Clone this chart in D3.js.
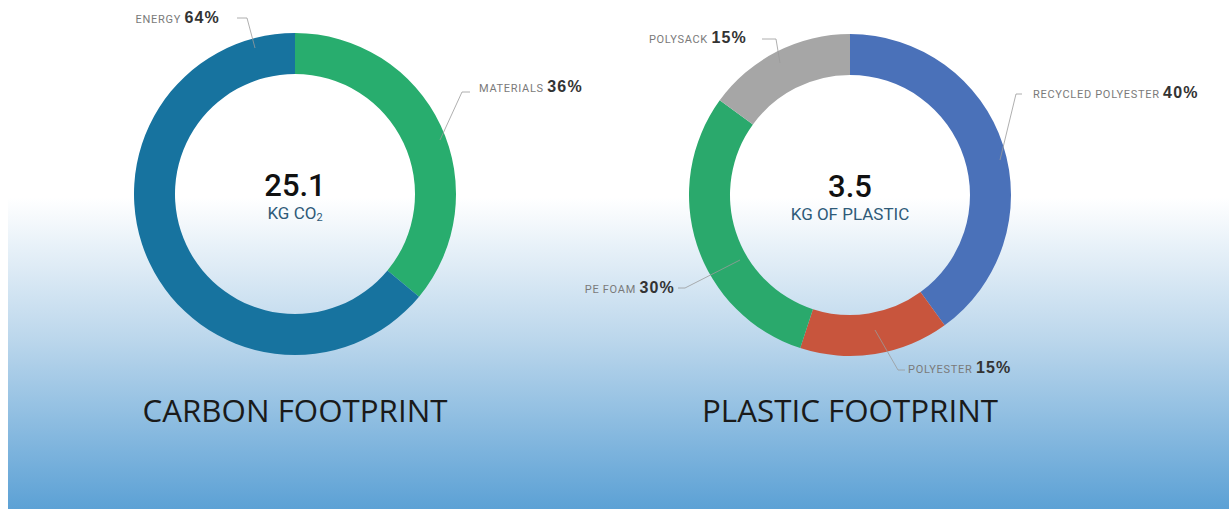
<!DOCTYPE html>
<html>
<head>
<meta charset="utf-8">
<script src="https://cdn.jsdelivr.net/npm/d3@7"></script>
<style>
  body { margin: 0; background: #fff; }
  svg { display: block; }
</style>
</head>
<body>
<div id="chart"></div>
<script>
// data
const carbonLabels = ["MATERIALS", "ENERGY"];
const carbonValues = [36, 64];
const carbonColors = ["#28ad6e", "#17739f"];
const carbonTotal = "25.1";

const plasticLabels = ["RECYCLED POLYESTER", "POLYESTER", "PE FOAM", "POLYSACK"];
const plasticValues = [40, 15, 30, 15];
const plasticColors = ["#4a71b9", "#c8553d", "#2aa96c", "#a6a6a6"];
const plasticTotal = "3.5";

const W = 1231, H = 509;

const svg = d3.select("#chart")
  .append("svg")
  .attr("width", W)
  .attr("height", H);

// background gradient
const grad = svg.append("defs").append("linearGradient")
  .attr("id", "bg")
  .attr("x1", 0).attr("y1", 0).attr("x2", 0).attr("y2", 1);
grad.append("stop").attr("offset", "0%").attr("stop-color", "#ffffff");
grad.append("stop").attr("offset", "45%").attr("stop-color", "#bcd7ec");
grad.append("stop").attr("offset", "100%").attr("stop-color", "#5ca1d5");

svg.append("rect")
  .attr("x", 8).attr("y", 198)
  .attr("width", 1221).attr("height", H - 198)
  .attr("fill", "url(#bg)");

const outerR = 161, innerR = 120;
const arc = d3.arc().innerRadius(innerR).outerRadius(outerR);
const pie = d3.pie().sort(null).value(d => d.value);

// label layout: leader points relative to donut centre, text anchor position
function donut(cx, cy, labels, values, colors, layout, total, unit, title) {
  const g = svg.append("g").attr("transform", `translate(${cx}, ${cy})`);
  const data = labels.map((l, i) => ({label: l, value: values[i], color: colors[i]}));

  g.selectAll("path.slice")
    .data(pie(data))
    .join("path")
    .attr("class", "slice")
    .attr("d", arc)
    .attr("fill", d => d.data.color);

  // leader lines
  g.selectAll("polyline")
    .data(layout)
    .join("polyline")
    .attr("points", d => d.line.map(p => p.join(",")).join(" "))
    .attr("fill", "none")
    .attr("stroke", "#9a9a9a")
    .attr("stroke-width", 0.8);

  const t = g.selectAll("text.lbl")
    .data(layout)
    .join("text")
    .attr("class", "lbl")
    .attr("x", d => d.text[0])
    .attr("y", d => d.text[1])
    .attr("text-anchor", d => d.anchor);
  t.append("tspan")
    .attr("font-family", "Roboto, sans-serif")
    .attr("font-size", 11)
    .attr("letter-spacing", 0.7)
    .attr("fill", "#7a7a7a")
    .text((d, i) => labels[d.idx] + "  ");
  t.append("tspan")
    .attr("font-family", "'Liberation Sans', Arial, sans-serif")
    .attr("font-weight", "bold")
    .attr("font-size", 16)
    .attr("letter-spacing", 1.2)
    .attr("fill", "#333")
    .text(d => values[d.idx] + "%");

  g.append("text")
    .attr("y", 2)
    .attr("text-anchor", "middle")
    .attr("font-family", "Roboto, sans-serif")
    .attr("font-weight", 500)
    .attr("font-size", 31)
    .attr("fill", "#111")
    .text(total);

  const u = g.append("text")
    .attr("y", 25)
    .attr("text-anchor", "middle")
    .attr("font-family", "Roboto, sans-serif")
    .attr("font-size", 17)
    .attr("fill", "#2e5a78");
  unit.forEach(part => {
    const s = u.append("tspan").text(part.t);
    if (part.sub) s.attr("font-size", 11).attr("dy", 2);
  });

  svg.append("text")
    .attr("x", cx)
    .attr("y", 422)
    .attr("text-anchor", "middle")
    .attr("font-family", "'Open Sans', sans-serif")
    .attr("font-size", 31)
    .attr("fill", "#1a1a1a")
    .attr("textLength", title.len)
    .attr("lengthAdjust", "spacingAndGlyphs")
    .text(title.t);
}

donut(295, 194, carbonLabels, carbonValues, carbonColors, [
  {idx: 1, line: [[-40, -146], [-48, -176], [-58, -176]], text: [-75, -171], anchor: "end"},
  {idx: 0, line: [[145, -54], [167, -102], [175, -102]], text: [184, -102], anchor: "start"}
], carbonTotal, [{t: "KG CO"}, {t: "2", sub: true}], {t: "CARBON FOOTPRINT", len: 305});

donut(850, 195, plasticLabels, plasticValues, plasticColors, [
  {idx: 3, line: [[-70, -132], [-74, -156], [-88, -156]], text: [-103, -152], anchor: "end"},
  {idx: 0, line: [[150, -35], [166, -101], [172, -101]], text: [183, -97], anchor: "start"},
  {idx: 2, line: [[-110, 65], [-165, 93], [-172, 93]], text: [-175, 98], anchor: "end"},
  {idx: 1, line: [[25, 135], [48, 175], [55, 175]], text: [58, 178], anchor: "start"}
], plasticTotal, [{t: "KG OF PLASTIC"}], {t: "PLASTIC FOOTPRINT", len: 296});
</script>
</body>
</html>
